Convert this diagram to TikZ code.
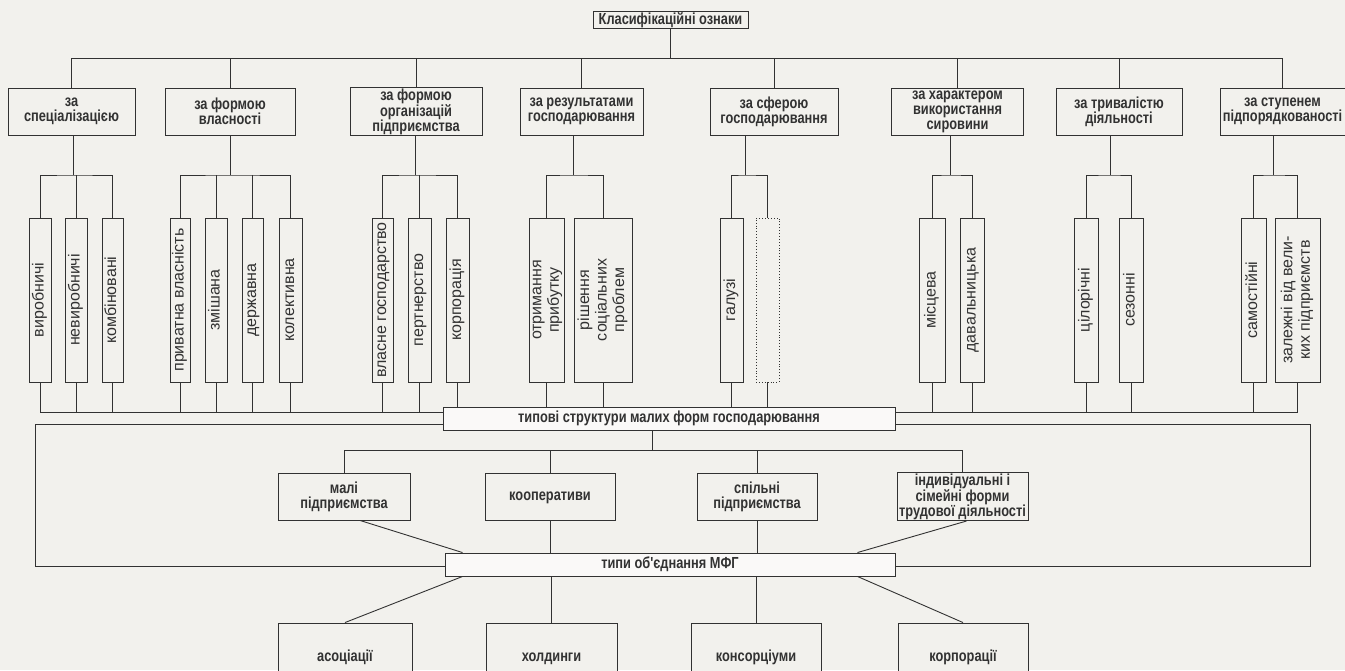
\documentclass[tikz,border=0pt]{standalone}
\usepackage{graphicx}
\usepackage{fontspec}
\setmainfont{Liberation Sans}
\newfontfamily\narrowfont[FakeStretch=0.8]{Liberation Sans}
\usetikzlibrary{positioning,calc}
\definecolor{paper}{RGB}{242,241,237}
\definecolor{ink}{RGB}{50,50,50}
\tikzset{
  box/.style = {draw=ink, fill=paper, line width=0.9pt, inner sep=1pt, align=center, text=ink,
                font=\narrowfont\bfseries\fontsize{16}{15}\selectfont},
  subbox/.style = {draw=ink, fill=paper, line width=0.9pt, inner sep=0pt, minimum height=164, text=ink,
                   font=\fontsize{16}{17.5}\selectfont},
  wide/.style = {box, fill=white!60!paper, minimum height=23},
  oneline/.style = {box, text height=11, text depth=3},
  link/.style = {draw=ink, line width=0.9pt},
}
\newcommand{\vtext}[1]{\rotatebox{90}{\begin{tabular}{@{}c@{}}#1\end{tabular}}}

\begin{document}
\begin{tikzpicture}[x=1pt,y=-1pt]
    \useasboundingbox (0,0) rectangle (1345,670);
    \clip (0,0) rectangle (1345,670);
    \fill[paper] (0,0) rectangle (1345,670);

    % frame round the lower part
    \coordinate (frameNW) at (35,424);
    \coordinate (frameSE) at (1310,566);
    \draw[link] (frameNW) rectangle (frameSE);

    \node [box, minimum width=155, minimum height=14, inner sep=0.5pt] (root) at (670.5,20) {Класифікаційні ознаки};

    \node [box, minimum width=127, minimum height=47] (cat1) at (71.5,111.5) {за\\спеціалізацією};
    \node [box, minimum width=130, minimum height=47] (cat2) at (230,111.5) {за формою\\власності};
    \node [box, minimum width=132, minimum height=47] (cat3) at (416,111.5) {за формою\\організацій\\підприємства};
    \node [box, minimum width=123, minimum height=47] (cat4) at (581.5,111.5) {за результатами\\господарювання};
    \node [box, minimum width=128, minimum height=47] (cat5) at (774,111.5) {за сферою\\господарювання};
    \node [box, minimum width=132, minimum height=47] (cat6) at (957.5,111.5) {за характером\\використання\\сировини};
    \node [box, minimum width=126, minimum height=47] (cat7) at (1119,111.5) {за тривалістю\\діяльності};
    \node [box, minimum width=125, minimum height=47] (cat8) at (1282.5,111.5) {за ступенем\\підпорядкованості};

    \foreach \c in {cat1,cat2,cat3,cat4,cat5,cat6,cat7,cat8}
        \draw[link] (root.south) -- ++(0,30) -| (\c.north);

    % sub-bar junctions
    \coordinate (j1) at (73,175);
    \coordinate (j2) at (230,175);
    \coordinate (j3) at (415,175);
    \coordinate (j4) at (573,175);
    \coordinate (j5) at (745,175);
    \coordinate (j6) at (950,175);
    \coordinate (j7) at (1110,175);
    \coordinate (j8) at (1273,175);

    \node [subbox, minimum width=22] (g1a) at (40,300) {\vtext{виробничі}};
    \node [subbox, minimum width=22] (g1b) at (76,300) {\vtext{невиробничі}};
    \node [subbox, minimum width=21] (g1c) at (112.5,300) {\vtext{комбіновані}};

    \node [subbox, minimum width=20] (g2a) at (180,300) {\vtext{приватна власність}};
    \node [subbox, minimum width=22] (g2b) at (216,300) {\vtext{змішана}};
    \node [subbox, minimum width=21] (g2c) at (252.5,300) {\vtext{державна}};
    \node [subbox, minimum width=23] (g2d) at (290.5,300) {\vtext{колективна}};

    \node [subbox, minimum width=21] (g3a) at (382.5,300) {\vtext{власне господарство}};
    \node [subbox, minimum width=23] (g3b) at (419.5,300) {\vtext{пертнерство}};
    \node [subbox, minimum width=23] (g3c) at (457.5,300) {\vtext{корпорація}};

    \node [subbox, minimum width=35] (g4a) at (546.5,300) {\vtext{отримання\\прибутку}};
    \node [subbox, minimum width=58] (g4b) at (603,300) {\vtext{рішення\\соціальних\\проблем}};

    \node [subbox, minimum width=23] (g5a) at (731.5,300) {\vtext{галузі}};
    \node [subbox, minimum width=23, dotted] (g5b) at (767.5,300) {};

    \node [subbox, minimum width=26] (g6a) at (932,300) {\vtext{місцева}};
    \node [subbox, minimum width=24] (g6b) at (972,300) {\vtext{давальницька}};

    \node [subbox, minimum width=24] (g7a) at (1086,300) {\vtext{цілорічні}};
    \node [subbox, minimum width=24] (g7b) at (1131,300) {\vtext{сезонні}};

    \node [subbox, minimum width=25] (g8a) at (1253.5,300) {\vtext{самостійні}};
    \node [subbox, minimum width=45] (g8b) at (1297.5,300) {\vtext{залежні від вели-\\ких підприємств}};

    % groups under the criteria
    \draw[link] (cat1.south -| j1) -- (j1);
    \draw[link] (g1a.north) |- (j1) -| (g1c.north);
    \draw[link] (g1b.north) -- (g1b.north |- j1);
    \draw[link] (cat2.south -| j2) -- (j2);
    \draw[link] (g2a.north) |- (j2) -| (g2d.north);
    \draw[link] (g2b.north) -- (g2b.north |- j2);
    \draw[link] (g2c.north) -- (g2c.north |- j2);
    \draw[link] (cat3.south -| j3) -- (j3);
    \draw[link] (g3a.north) |- (j3) -| (g3c.north);
    \draw[link] (g3b.north) -- (g3b.north |- j3);
    \draw[link] (cat4.south -| j4) -- (j4);
    \draw[link] (g4a.north) |- (j4) -| (g4b.north);
    \draw[link] (cat5.south -| j5) -- (j5);
    \draw[link] (g5a.north) |- (j5) -| (g5b.north);
    \draw[link] (cat6.south -| j6) -- (j6);
    \draw[link] (g6a.north) |- (j6) -| (g6b.north);
    \draw[link] (cat7.south -| j7) -- (j7);
    \draw[link] (g7a.north) |- (j7) -| (g7b.north);
    \draw[link] (cat8.south -| j8) -- (j8);
    \draw[link] (g8a.north) |- (j8) -| (g8b.north);

    \node [wide, minimum width=452] (typ) at (669,418.5) {типові структури малих форм господарювання};

    \foreach \g in {g1a,g1b,g1c,g2a,g2b,g2c,g2d,g3a,g3b}
        \draw[link] (\g.south) |- ([yshift=6.5]typ.west);
    \foreach \g in {g3c,g4a,g4b,g5a,g5b}
        \draw[link] (\g.south) -- (\g.south |- typ.north);
    \foreach \g in {g6a,g6b,g7a,g7b,g8a,g8b}
        \draw[link] (\g.south) |- ([yshift=6.5]typ.east);

    \node [box, minimum width=132, minimum height=47] (mali) at (344,496.5) {малі\\підприємства};
    \node [oneline, minimum width=130, minimum height=47] (koop) at (550,496.5) {кооперативи};
    \node [box, minimum width=120, minimum height=47] (spil) at (757,496.5) {спільні\\підприємства};
    \node [box, minimum width=131, minimum height=47] (indiv) at (962.5,496.5) {індивідуальні і\\сімейні форми\\трудової діяльності};

    \foreach \m in {mali,koop,spil,indiv}
        \draw[link] ([xshift=-17]typ.south) -- ++(0,20) -| (\m.north);

    \node [wide, minimum width=450] (types) at (670,564.5) {типи об'єднання МФГ};

    \draw[link] (koop.south) -- (koop.south |- types.north);
    \draw[link] (spil.south) -- (spil.south |- types.north);
    \draw[link] ([xshift=16]mali.south) -- ([xshift=18]types.north west);
    \draw[link] ([xshift=4]indiv.south) -- ([xshift=-38]types.north east);

    \node [oneline, minimum width=134, minimum height=68] (asoc) at (345,657) {асоціації};
    \node [oneline, minimum width=131, minimum height=68] (hold) at (551.5,657) {холдинги};
    \node [oneline, minimum width=130, minimum height=68] (kons) at (756,657) {консорціуми};
    \node [oneline, minimum width=130, minimum height=68] (korp) at (963,657) {корпорації};

    \draw[link] (hold.north |- types.south) -- (hold.north);
    \draw[link] (kons.north |- types.south) -- (kons.north);
    \draw[link] ([xshift=18]types.south west) -- (asoc.north);
    \draw[link] ([xshift=-38]types.south east) -- (korp.north);
\end{tikzpicture}
\end{document}
